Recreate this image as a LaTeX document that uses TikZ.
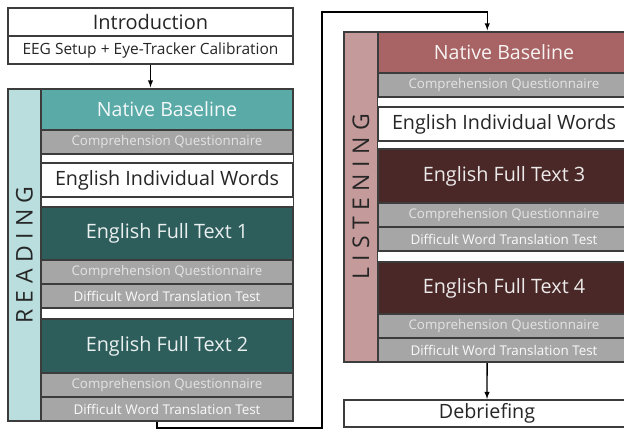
\documentclass[tikz,border=0pt]{standalone}
\usepackage{fontspec}
\setmainfont{Open Sans}
\newfontfamily\spacedfont[LetterSpace=28]{Open Sans}
\usepackage{tikz}
\usetikzlibrary{shapes,arrows,fit}

\definecolor{edgegray}{HTML}{3C3C3C}
\definecolor{txtdark}{HTML}{262626}
\definecolor{qgray}{HTML}{A6A6A6}
\definecolor{qtext}{HTML}{E4E4E4}
\definecolor{readlight}{HTML}{B9DEDD}
\definecolor{readmid}{HTML}{5AAAA8}
\definecolor{readdark}{HTML}{2E5E5C}
\definecolor{listlight}{HTML}{C49A9A}
\definecolor{listmid}{HTML}{A86464}
\definecolor{listdark}{HTML}{4A2828}

\begin{document}
\begin{tikzpicture}[x=1pt,y=-1pt,shorten >=0.5pt,draw=edgegray]
	\def \lcol{167}
	\def \rcol{504}
	\def \lstrip{24.5}
	\def \rstrip{361}
	\def \lmid{150.5}
	\def \rmid{487}

	\tikzstyle{block}=[rectangle,draw=edgegray,line width=1.2pt,inner sep=0pt,minimum width=252pt,align=center]
	\tikzstyle{w-node}=[block,fill=white,text=txtdark,font=\fontsize{19.7}{22}\selectfont]
	\tikzstyle{q-node}=[block,fill=qgray,text=qtext,minimum height=24pt,font=\fontsize{13.3}{15}\selectfont]
	\tikzstyle{t-node}=[q-node,text=white!96!gray,font=\fontsize{13.4}{15}\selectfont]
	\tikzstyle{rb-node}=[block,fill=readmid,text=white!92!readmid,minimum height=41pt,font=\fontsize{19.6}{22}\selectfont]
	\tikzstyle{rf-node}=[block,fill=readdark,text=white!90!readdark,minimum height=53pt,font=\fontsize{19.8}{22}\selectfont]
	\tikzstyle{lb-node}=[rb-node,fill=listmid,text=white!92!listmid]
	\tikzstyle{lf-node}=[rf-node,fill=listdark,text=white!90!listdark]
	\tikzstyle{strip}=[rectangle,draw=edgegray,line width=1.2pt,inner sep=0pt,rotate=90,minimum height=33pt,text=txtdark,font=\spacedfont\fontsize{23}{26}\selectfont]
	\tikzstyle{frame}=[rectangle,draw=edgegray,line width=1.2pt,inner sep=0pt]
	\tikzstyle{flow}=[->,>=latex,line width=1.4pt,draw=black]

	\useasboundingbox (0,0) rectangle (624,430);

	% opening
	\node[w-node,minimum width=285pt,minimum height=28pt,font=\fontsize{20}{22}\selectfont] (intro) at (\lmid,22) {Introduction};
	\node[w-node,minimum width=285pt,minimum height=28pt,font=\fontsize{15.5}{18}\selectfont] (eeg) at (\lmid,50) {EEG Setup + Eye-Tracker Calibration};

	% reading
	\node[strip,fill=readlight,minimum width=332pt] (rstrip) at (\lstrip,255) {READING};
	\node[rb-node] (rnb) at (\lcol,109.5) {Native Baseline};
	\node[q-node] (rcq0) at (\lcol,142) {Comprehension Questionnaire};
	\node[w-node,minimum height=34pt] (riw) at (\lcol,180) {English Individual Words};
	\node[rf-node] (rft1) at (\lcol,233.5) {English Full Text 1};
	\node[q-node] (rcq1) at (\lcol,272) {Comprehension Questionnaire};
	\node[t-node] (rdw1) at (\lcol,296) {Difficult Word Translation Test};
	\node[rf-node,minimum height=54pt] (rft2) at (\lcol,346) {English Full Text 2};
	\node[q-node] (rcq2) at (\lcol,385) {Comprehension Questionnaire};
	\node[t-node] (rdw2) at (\lcol,409) {Difficult Word Translation Test};
	\node[frame,fit=(rstrip)(rnb)(rdw2)] (readbox) {};

	% listening
	\node[strip,fill=listlight,minimum width=330pt] (lstrip) at (\rstrip,197) {LISTENING};
	\node[lb-node] (lnb) at (\rcol,52.5) {Native Baseline};
	\node[q-node] (lcq0) at (\rcol,85) {Comprehension Questionnaire};
	\node[w-node,minimum height=34pt] (liw) at (\rcol,124) {English Individual Words};
	\node[lf-node,minimum height=54pt] (lft3) at (\rcol,176) {English Full Text 3};
	\node[q-node] (lcq3) at (\rcol,215) {Comprehension Questionnaire};
	\node[t-node] (ldw3) at (\rcol,239) {Difficult Word Translation Test};
	\node[lf-node,minimum height=52pt] (lft4) at (\rcol,288) {English Full Text 4};
	\node[q-node] (lcq4) at (\rcol,326) {Comprehension Questionnaire};
	\node[t-node] (ldw4) at (\rcol,350) {Difficult Word Translation Test};
	\node[frame,fit=(lstrip)(lnb)(ldw4)] (listenbox) {};

	% closing
	\node[w-node,minimum width=286pt,minimum height=27pt] (debrief) at (\rmid,413.5) {Debriefing};

	\coordinate (lowturn) at (322,428);
	\coordinate (highturn) at (322,12);

	\draw[flow] (eeg) -- (readbox);
	\draw[flow] ([xshift=6.5pt]readbox.south) |- (lowturn) -- (highturn) -| (listenbox.north);
	\draw[flow] (listenbox) -- (debrief);
\end{tikzpicture}
\end{document}
